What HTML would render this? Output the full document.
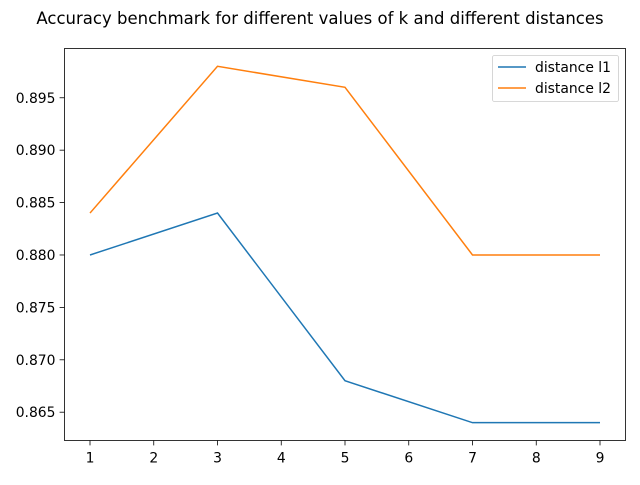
<!DOCTYPE html>
<html><head><meta charset="utf-8"><style>
body{margin:0;background:#fff;font-family:"Liberation Sans","DejaVu Sans",sans-serif;}
svg text{font-family:"DejaVu Sans","Liberation Sans",sans-serif;}
</style></head><body>
<svg id="chart" width="640" height="480" xmlns="http://www.w3.org/2000/svg">
<rect width="640" height="480" fill="#fff"/>
<text x="320" y="24" text-anchor="middle" font-size="16.5" fill="#000">Accuracy benchmark for different values of k and different distances</text>
<g id="plot"></g>
</svg>
<script>
const kValues=[1,3,5,7,9];
const l1Values=[0.880,0.884,0.868,0.864,0.864];
const l2Values=[0.884,0.898,0.896,0.880,0.880];
const xTicks=[1,2,3,4,5,6,7,8,9];
const yTicks=[0.865,0.870,0.875,0.880,0.885,0.890,0.895];
const seriesNames=['distance l1','distance l2'];
const L=64.5,R=625.5,T=48.5,B=440.5;
const all=l1Values.concat(l2Values);
const ymin=Math.min(...all),ymax=Math.max(...all),yp=(ymax-ymin)*0.05;
const xmin=Math.min(...kValues),xmax=Math.max(...kValues),xp=(xmax-xmin)*0.05;
const sx=v=>L+(v-(xmin-xp))/((xmax+xp)-(xmin-xp))*(R-L);
const sy=v=>B-(v-(ymin-yp))/((ymax+yp)-(ymin-yp))*(B-T);
const ns='http://www.w3.org/2000/svg';
const g=document.getElementById('plot');
function mk(t,a){const e=document.createElementNS(ns,t);for(const k in a)e.setAttribute(k,a[k]);g.appendChild(e);return e;}
xTicks.forEach(v=>{const x=sx(v);
const t=mk('line',{x1:x,x2:x,y1:B,y2:B+4.9,stroke:'#000','stroke-width':0.8});


const l=mk('text',{x:x,y:B+22,'text-anchor':'middle','font-size':13.9,fill:'#000'});l.textContent=v;

});
yTicks.forEach(v=>{const y=sy(v);
const t=mk('line',{x1:L-4.9,x2:L,y1:y,y2:y,stroke:'#000','stroke-width':0.8});


const l=mk('text',{x:L-9,y:y+5,'text-anchor':'end','font-size':13.9,fill:'#000'});l.textContent=v.toFixed(3);

});
const colors=['#1f77b4','#ff7f0e'];
[l1Values,l2Values].forEach((s,i)=>{
const p=mk('polyline',{points:kValues.map((k,j)=>sx(k)+','+sy(s[j])).join(' '),fill:'none',stroke:colors[i],'stroke-width':1.5});

});
const fr=mk('rect',{x:L,y:T,width:R-L,height:B-T,fill:'none',stroke:'#000','stroke-width':0.8});


const lg=mk('rect',{x:492.5,y:55.5,width:126,height:46,rx:2,fill:'#fff','fill-opacity':0.8,stroke:'#ccc','stroke-width':0.8});


seriesNames.forEach((n,i)=>{const y=67+i*21;
const ln=mk('line',{x1:498,x2:526,y1:y,y2:y,stroke:colors[i],'stroke-width':1.5});


const t=mk('text',{x:535,y:y+5,'font-size':13.9,fill:'#000'});t.textContent=n;

});
</script>
</body></html>
